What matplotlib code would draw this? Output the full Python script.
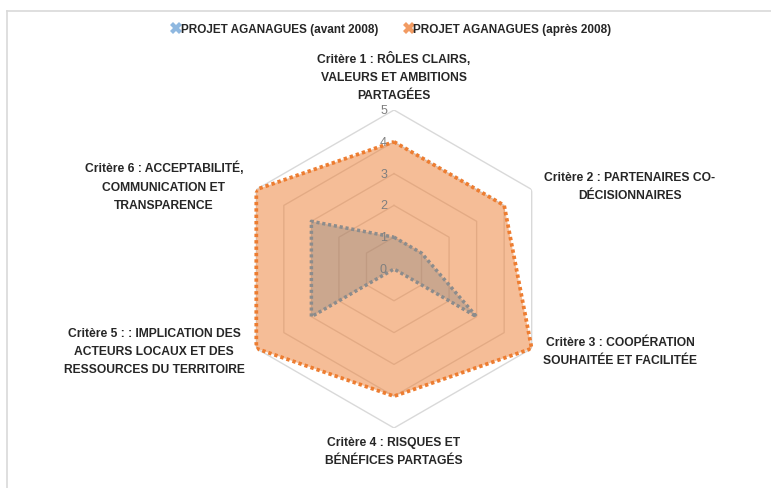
import numpy as np
import matplotlib
matplotlib.use("Agg")
import matplotlib.pyplot as plt
import matplotlib.transforms as mtransforms
from matplotlib.lines import Line2D

categories = [
    "Critère 1 : RÔLES CLAIRS,\nVALEURS ET AMBITIONS\nPARTAGÉES",
    "Critère 2 : PARTENAIRES CO-\nDÉCISIONNAIRES",
    "Critère 3 : COOPÉRATION\nSOUHAITÉE ET FACILITÉE",
    "Critère 4 : RISQUES ET\nBÉNÉFICES PARTAGÉS",
    "Critère 5 : : IMPLICATION DES\nACTEURS LOCAUX ET DES\nRESSOURCES DU TERRITOIRE",
    "Critère 6 : ACCEPTABILITÉ,\nCOMMUNICATION ET\nTRANSPARENCE",
]
avant_2008 = [1, 1, 3, 0, 3, 3]
apres_2008 = [4, 4, 5, 4, 5, 5]
series_names = ["PROJET AGANAGUES (avant 2008)", "PROJET AGANAGUES (après 2008)"]
radial_ticks = [0, 1, 2, 3, 4, 5]

plt.rcParams['font.family'] = ['Liberation Sans Narrow', 'Liberation Sans', 'DejaVu Sans']

W, H = 771, 489
fig = plt.figure(figsize=(W / 100, H / 100), dpi=100)

# frame lines (top and left)
fig.add_artist(Line2D([7 / W, 7 / W], [0, 1 - 12 / H], color="#D9D9D9", lw=1.2, transform=fig.transFigure))
fig.add_artist(Line2D([7 / W, 1], [1 - 12 / H, 1 - 12 / H], color="#D9D9D9", lw=1.2, transform=fig.transFigure))

cx, cy, R = 394, 270, 159
ax = fig.add_axes([(cx - R) / W, 1 - (cy + R) / H, 2 * R / W, 2 * R / H], projection="polar")
ax.set_theta_offset(np.pi / 2)
ax.set_theta_direction(-1)
ax.set_ylim(0, 5)
ax.set_xticks([])
ax.set_yticks([])
ax.grid(False)
ax.spines["polar"].set_visible(False)
ax.patch.set_alpha(0)

n = len(categories)
angles = np.linspace(0, 2 * np.pi, n, endpoint=False)
ang_c = np.concatenate([angles, angles[:1]])

# hexagonal gridlines
for r in radial_ticks[1:]:
    ax.plot(ang_c, [r] * (n + 1), color="#D9D9D9", lw=1.0, zorder=1)

# series après 2008
v2 = np.array(apres_2008 + apres_2008[:1], dtype=float)
ax.fill(ang_c, v2, color="#ED7D31", alpha=0.5, lw=0, zorder=2)
ax.plot(ang_c, v2, color="#ED7D31", lw=2.7, linestyle=(0, (0.9, 0.8)), zorder=4)

# series avant 2008
v1 = np.array(avant_2008 + avant_2008[:1], dtype=float)
ax.fill(ang_c, v1, color="#7F7F7F", alpha=0.35, lw=0, zorder=3)
ax.plot(ang_c, v1, color="#8C8C8C", lw=2.5, linestyle=(0, (0.9, 0.8)), zorder=5)

# radial tick labels
offset = mtransforms.ScaledTranslation(-0.07, 0, fig.dpi_scale_trans)
for r in radial_ticks:
    ax.text(0, r, str(r), transform=ax.transData + offset, ha="right", va="center",
            fontsize=9, color="#7F7F7F", zorder=6)

# category labels (pixel positions of label centers)
label_pos = [(394, 77), (630, 187), (620, 352), (394, 452), (154, 352), (164, 187)]
for txt, (px, py) in zip(categories, label_pos):
    fig.text(px / W, 1 - py / H, txt, ha="center", va="center", fontsize=8.7,
             fontweight="bold", color="#262626", linespacing=1.72)

# legend
handles = [
    Line2D([], [], marker="X", color="#8FB8E0", markersize=8, linestyle="none", markeredgewidth=0),
    Line2D([], [], marker="X", color="#F29B62", markersize=8, linestyle="none", markeredgewidth=0),
]
leg = fig.legend(handles, series_names, loc="center", bbox_to_anchor=(392 / W, 1 - 30 / H),
                 ncol=2, frameon=False, handlelength=0.6, handletextpad=0.1, columnspacing=2.3,
                 prop={"size": 8.5, "weight": "bold"})
for t in leg.get_texts():
    t.set_color("#262626")

fig.savefig("out.png", dpi=100)
